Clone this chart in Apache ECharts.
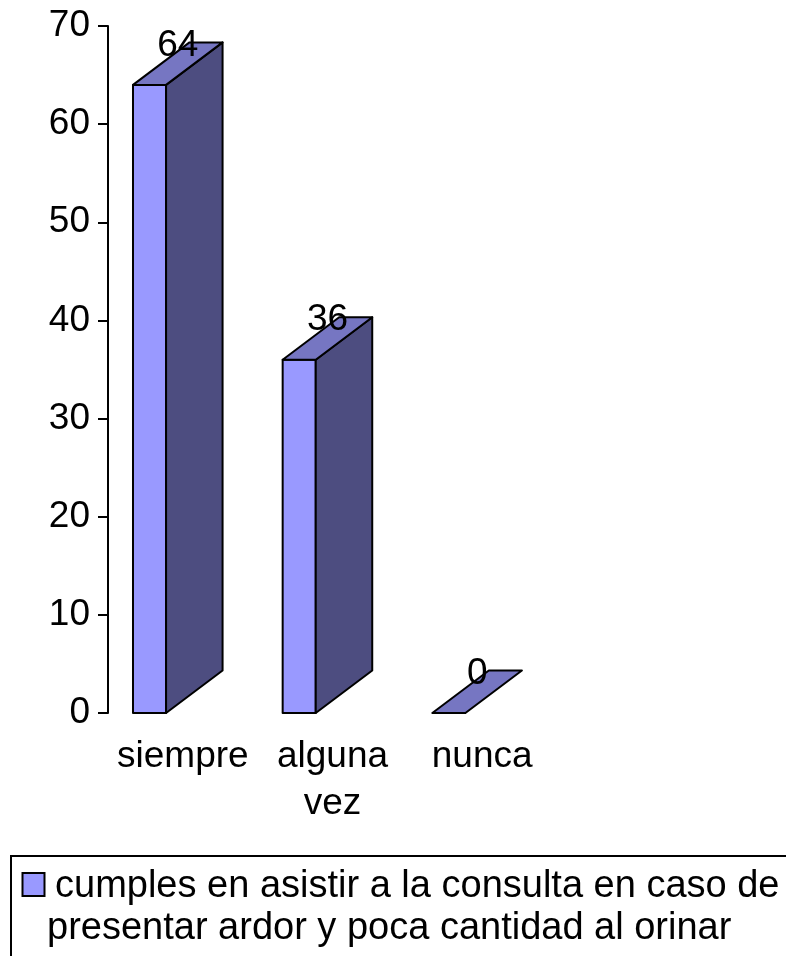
<!DOCTYPE html>
<html>
<head>
<meta charset="utf-8">
<script src="https://cdn.jsdelivr.net/npm/echarts@6/dist/echarts.min.js"></script>
<style>
  html, body { margin: 0; padding: 0; background: #fff; }
  #chart { width: 786px; height: 956px; }
</style>
</head>
<body>
<div id="chart"></div>
<script>
// Response categories and counts
const categories = ['siempre', 'alguna\nvez', 'nunca'];
const values = [64, 36, 0];
const yMin = 0;
const yMax = 70;
const yStep = 10;
const legendLines = [
  'cumples en asistir a la consulta en caso de',
  'presentar ardor y poca cantidad al orinar'
];

const FONT_FAMILY = '"Liberation Sans", Arial, Helvetica, sans-serif';
const FONT_SIZE = 37;
const LEGEND_FONT_SIZE = 38;
const FRONT = '#9999FF';
const SIDE = '#4D4D80';
const TOP = '#7676C2';
const DEPTH_X = 56.5;
const DEPTH_Y = -42.5;
const OUTLINE = { stroke: '#000', lineWidth: 2, lineJoin: 'round' };

// Draws a pseudo-3D column: front face, right side and top face, plus its value label
function renderColumn(params, api) {
  const idx = api.value(0);
  const v = api.value(1);
  const top = api.coord([idx, v]);
  const base = api.coord([idx, 0]);
  const band = api.size([1, 0])[0];
  const w = band * 0.221;
  const x0 = top[0] - band * 0.333;
  const x1 = x0 + w;
  const yT = top[1];
  const yB = base[1];
  const children = [];
  if (yB - yT > 0.5) {
    children.push({
      type: 'rect',
      shape: { x: x0, y: yT, width: w, height: yB - yT },
      style: Object.assign({ fill: FRONT }, OUTLINE)
    });
    children.push({
      type: 'polygon',
      shape: { points: [[x1, yT], [x1 + DEPTH_X, yT + DEPTH_Y], [x1 + DEPTH_X, yB + DEPTH_Y], [x1, yB]] },
      style: Object.assign({ fill: SIDE }, OUTLINE)
    });
  }
  children.push({
    type: 'polygon',
    shape: { points: [[x0, yT], [x0 + DEPTH_X, yT + DEPTH_Y], [x1 + DEPTH_X, yT + DEPTH_Y], [x1, yT]] },
    style: Object.assign({ fill: TOP }, OUTLINE)
  });
  children.push({
    type: 'text',
    style: {
      text: String(v),
      x: top[0] - 5,
      y: yT + DEPTH_Y + 3,
      align: 'center',
      verticalAlign: 'middle',
      fontFamily: FONT_FAMILY,
      fontSize: FONT_SIZE,
      fill: '#000'
    }
  });
  return { type: 'group', children: children };
}

const chart = echarts.init(document.getElementById('chart'), null, { renderer: 'canvas' });

chart.setOption({
  animation: false,
  backgroundColor: '#fff',
  textStyle: { fontFamily: FONT_FAMILY },
  grid: { left: 108, top: 26, width: 449, height: 687, containLabel: false },
  xAxis: {
    type: 'category',
    data: categories,
    axisLine: { show: false },
    axisTick: { show: false },
    axisLabel: {
      color: '#000',
      fontSize: FONT_SIZE,
      fontFamily: FONT_FAMILY,
      lineHeight: 47,
      margin: 20,
      interval: 0
    }
  },
  yAxis: {
    type: 'value',
    min: yMin,
    max: yMax,
    interval: yStep,
    splitLine: { show: false },
    axisLine: { show: true, lineStyle: { color: '#000', width: 2 } },
    axisTick: { show: true, length: 10, lineStyle: { color: '#000', width: 2 } },
    axisLabel: {
      color: '#000',
      fontSize: FONT_SIZE,
      fontFamily: FONT_FAMILY,
      margin: 18,
      padding: [4, 0, 0, 0]
    }
  },
  series: [{
    type: 'custom',
    name: legendLines.join(' '),
    renderItem: renderColumn,
    encode: { x: 0, y: 1 },
    clip: false,
    data: values.map((v, i) => [i, v])
  }],
  graphic: [
    {
      type: 'rect',
      shape: { x: 11, y: 856, width: 820, height: 200 },
      style: { fill: 'none', stroke: '#000', lineWidth: 2 }
    },
    {
      type: 'rect',
      shape: { x: 22.5, y: 873, width: 22, height: 23 },
      style: { fill: FRONT, stroke: '#000', lineWidth: 2 }
    },
    {
      type: 'text',
      style: {
        text: legendLines[0],
        x: 55, y: 868,
        align: 'left', verticalAlign: 'top',
        fontFamily: FONT_FAMILY, fontSize: LEGEND_FONT_SIZE, fill: '#000'
      }
    },
    {
      type: 'text',
      style: {
        text: legendLines[1],
        x: 47, y: 910,
        align: 'left', verticalAlign: 'top',
        fontFamily: FONT_FAMILY, fontSize: LEGEND_FONT_SIZE, fill: '#000'
      }
    }
  ]
});
</script>
</body>
</html>
